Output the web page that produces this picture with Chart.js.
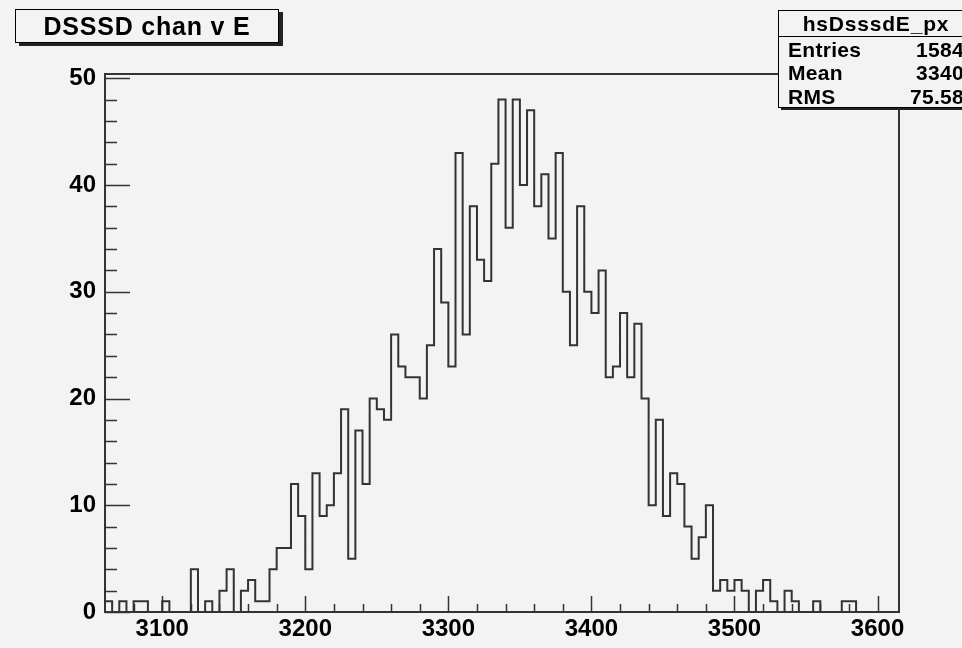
<!DOCTYPE html>
<html>
<head>
<meta charset="utf-8">
<script src="https://cdn.jsdelivr.net/npm/chart.js@4.4.0/dist/chart.umd.min.js"></script>
<style>
  html, body { margin: 0; padding: 0; background: #f3f3f3; overflow: hidden; }
  #wrap { position: relative; width: 962px; height: 648px; overflow: hidden;
          font-family: "Liberation Sans", Arial, sans-serif; font-weight: bold; color: #000; }
  canvas { position: absolute; left: 0; top: 0; }
  #title { position: absolute; left: 15px; top: 9px; width: 262px; height: 32px;
           border: 1px solid #000; box-shadow: 4px 3px 0 #222; background: #f3f3f3;
           font-size: 25px; letter-spacing: 0.8px; line-height: 33px; text-align: center; }
  #stats { position: absolute; left: 778px; top: 10px; width: 194px; height: 96px;
           border: 1px solid #000; box-shadow: 3px 2px 0 #222; background: #f3f3f3;
           font-size: 21px; letter-spacing: 0.3px; }
  #stats .head { height: 25px; line-height: 25px; border-bottom: 1px solid #000; text-align: center;
                 letter-spacing: 0.8px; }
  #stats .row { height: 23.3px; line-height: 25px; display: flex; justify-content: space-between;
                padding: 0 9px 0 9px; }
</style>
</head>
<body>
<div id="wrap">
  <canvas id="histChart" width="962" height="648"></canvas>
  <div id="title">DSSSD chan v E</div>
  <div id="stats">
    <div class="head">hsDsssdE_px</div>
    <div class="row"><span>Entries</span><span>1584</span></div>
    <div class="row"><span>Mean</span><span>3340</span></div>
    <div class="row"><span>RMS</span><span>75.58</span></div>
  </div>
</div>
<script>
// bin contents, 5 channels per bin starting at 3060
var counts = [
  1, 0, 1, 0, 1, 1, 0, 0, 1, 0,
  0, 0, 4, 0, 1, 0, 2, 4, 0, 2,
  3, 1, 1, 4, 6, 6, 12, 9, 4, 13,
  9, 10, 13, 19, 5, 17, 12, 20, 19, 18,
  26, 23, 22, 22, 20, 25, 34, 29, 23, 43,
  26, 38, 33, 31, 42, 48, 36, 48, 40, 47,
  38, 41, 35, 43, 30, 25, 38, 30, 28, 32,
  22, 23, 28, 22, 27, 20, 10, 18, 9, 13,
  12, 8, 5, 7, 10, 2, 3, 2, 3, 2,
  0, 2, 3, 1, 0, 2, 1, 0, 0, 1,
  0, 0, 0, 1, 1, 0, 0, 0, 0, 0, 0
];
var binStart = 3060;
var binWidth = 5;
var xTicks = [3100, 3200, 3300, 3400, 3500, 3600];
var yTicks = [0, 10, 20, 30, 40, 50];
var xMax = binStart + counts.length * binWidth;
var yMax = 50.4;

// step outline: one point per bin low edge, closed at the last edge
var points = [{ x: binStart, y: 0 }];
counts.forEach(function (c, i) {
  points.push({ x: binStart + i * binWidth, y: c });
});
points.push({ x: xMax, y: 0 });

var tickFont = { family: "'Liberation Sans', Arial, sans-serif", size: 24, weight: "bold" };

// ROOT style frame with inward major/minor ticks
var framePlugin = {
  id: "frame",
  afterDraw: function (chart) {
    var ctx = chart.ctx;
    var a = chart.chartArea;
    var x = chart.scales.x;
    var y = chart.scales.y;
    ctx.save();
    ctx.strokeStyle = "#333";
    ctx.lineWidth = 2;
    ctx.strokeRect(a.left, a.top, a.right - a.left, a.bottom - a.top);
    ctx.lineWidth = 1.5;
    ctx.beginPath();
    for (var v = 0; v <= yMax; v += 2) {
      var py = Math.round(y.getPixelForValue(v)) + 0.5;
      ctx.moveTo(a.left, py);
      ctx.lineTo(a.left + (v % 10 === 0 ? 25 : 12), py);
    }
    for (var u = 3080; u <= xMax; u += 20) {
      var px = Math.round(x.getPixelForValue(u)) + 0.5;
      ctx.moveTo(px, a.bottom);
      ctx.lineTo(px, a.bottom - (u % 100 === 0 ? 16 : 8));
    }
    ctx.stroke();
    ctx.restore();
  }
};

var ctx = document.getElementById("histChart").getContext("2d");
new Chart(ctx, {
  type: "scatter",
  data: {
    datasets: [{
      label: "hsDsssdE_px",
      data: points,
      showLine: true,
      stepped: true,
      borderColor: "#333",
      borderWidth: 2,
      pointRadius: 0,
      fill: false,
      clip: false
    }]
  },
  options: {
    responsive: false,
    animation: false,
    devicePixelRatio: 1,
    layout: { padding: { top: 74, right: 63, left: 0, bottom: 0 } },
    plugins: { legend: { display: false }, tooltip: { enabled: false } },
    scales: {
      x: {
        type: "linear",
        min: binStart,
        max: xMax,
        afterBuildTicks: function (s) { s.ticks = xTicks.map(function (v) { return { value: v }; }); },
        afterFit: function (s) { s.height = 36; },
        grid: { display: false, drawTicks: false },
        border: { display: false },
        ticks: {
          font: tickFont, color: "#000", padding: 3, maxRotation: 0, autoSkip: false,
          callback: function (v) { return String(v); }
        }
      },
      y: {
        min: 0,
        max: yMax,
        afterBuildTicks: function (s) { s.ticks = yTicks.map(function (v) { return { value: v }; }); },
        afterFit: function (s) { s.width = 105; },
        grid: { display: false, drawTicks: false },
        border: { display: false },
        ticks: {
          font: tickFont, color: "#000", padding: 9, autoSkip: false,
          callback: function (v) { return String(v); }
        }
      }
    }
  },
  plugins: [framePlugin]
});
</script>
</body>
</html>
